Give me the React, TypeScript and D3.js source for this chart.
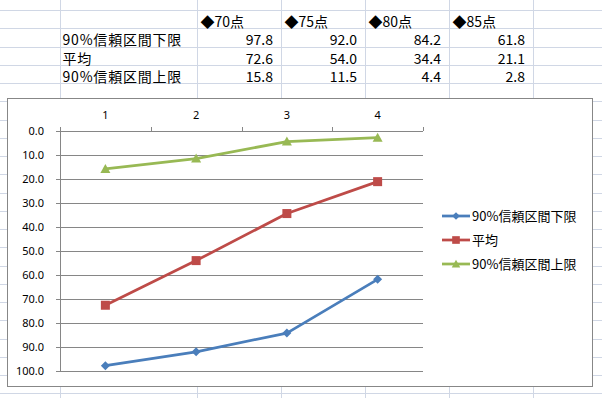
import React from "react";
import * as d3 from "d3";

const categories = ["1", "2", "3", "4"];
const headers = ["◆70点", "◆75点", "◆80点", "◆85点"];
const seriesNames = ["90%信頼区間下限", "平均", "90%信頼区間上限"];
const lower = [97.8, 92.0, 84.2, 61.8];
const mean = [72.6, 54.0, 34.4, 21.1];
const upper = [15.8, 11.5, 4.4, 2.8];
const yTicks = [0, 10, 20, 30, 40, 50, 60, 70, 80, 90, 100];

const colors = ["#4A7EBB", "#BE4B48", "#98B954"];
const shapes = ["diamond", "square", "triangle"];
const seriesValues = [lower, mean, upper];

const W = 602;
const H = 398;
const gridColor = "#D0D7E5";
const colLines = [60, 197, 281, 365, 449, 533];
const rowStart = 10;
const rowH = 18.25;

function marker(shape: string, cx: number, cy: number, color: string, s = 1) {
  if (shape === "diamond") {
    const r = 4.5 * s;
    return <path d={`M${cx},${cy - r}L${cx + r},${cy}L${cx},${cy + r}L${cx - r},${cy}Z`} fill={color} />;
  }
  if (shape === "square") {
    const r = 4.5 * s;
    return <rect x={cx - r} y={cy - r} width={2 * r} height={2 * r} fill={color} />;
  }
  const r = 5 * s;
  return <path d={`M${cx},${cy - r}L${cx + r},${cy + 4 * s}L${cx - r},${cy + 4 * s}Z`} fill={color} />;
}

export default function App() {
  const x = d3.scaleBand<string>().domain(categories).range([60, 423]);
  const y = d3.scaleLinear().domain([0, 100]).range([131, 371]);
  const cx = (c: string) => (x(c) as number) + x.bandwidth() / 2;
  const line = d3
    .line<number>()
    .x((_, i) => cx(categories[i]))
    .y((v) => y(v));

  const rows: number[] = [];
  for (let k = 0; rowStart + k * rowH < H; k++) rows.push(Math.round(rowStart + k * rowH) + 0.5);

  const tableFont = "'Noto Sans CJK JP', sans-serif";
  const tableRows = [lower, mean, upper];
  const boundaries = x.domain().map((c) => x(c) as number).concat([423]);

  return (
    <svg
      width={W}
      height={H}
      style={{ position: "fixed", left: 0, top: 0, background: "#fff" }}
      fontFamily={tableFont}
    >
      {/* spreadsheet grid */}
      {rows.map((r, i) => (
        <line key={"r" + i} x1={0} x2={W} y1={r} y2={r} stroke={gridColor} strokeWidth={1} />
      ))}
      {colLines.map((c, i) => (
        <line key={"c" + i} x1={c + 0.5} x2={c + 0.5} y1={0} y2={H} stroke={gridColor} strokeWidth={1} />
      ))}

      {/* table */}
      {headers.map((h, i) => (
        <text key={"h" + i} x={colLines[i + 1] + 3.5} y={26.5} fontSize={14} fill="#000">
          {h}
        </text>
      ))}
      {seriesNames.map((n, i) => (
        <text key={"n" + i} x={62.5} y={45 + i * 18.5} fontSize={14} letterSpacing={0.8} fill="#000">
          {n}
        </text>
      ))}
      {tableRows.map((vals, ri) =>
        vals.map((v, ci) => (
          <text
            key={"v" + ri + "-" + ci}
            x={colLines[ci + 2] - 8}
            y={45 + ri * 18.5}
            fontSize={14}
            textAnchor="end"
            fill="#000"
          >
            {d3.format(".1f")(v)}
          </text>
        ))
      )}

      {/* chart area */}
      <rect x={7.5} y={98.5} width={585} height={288} fill="#fff" stroke="#878787" strokeWidth={1} />

      {/* gridlines */}
      {yTicks.map((t) => (
        <line
          key={"g" + t}
          x1={t === 0 ? 60 : 56}
          x2={423}
          y1={Math.round(y(t)) + 0.5}
          y2={Math.round(y(t)) + 0.5}
          stroke="#868686"
          strokeWidth={1}
        />
      ))}
      {yTicks.map((t) => (
        <line
          key={"tk" + t}
          x1={56}
          x2={60}
          y1={Math.round(y(t)) + 0.5}
          y2={Math.round(y(t)) + 0.5}
          stroke="#868686"
          strokeWidth={1}
        />
      ))}
      {/* left axis */}
      <line x1={60.5} x2={60.5} y1={127} y2={372} stroke="#868686" strokeWidth={1} />
      {/* top axis ticks */}
      {boundaries.map((b, i) => (
        <line
          key={"xt" + i}
          x1={Math.round(b) + 0.5}
          x2={Math.round(b) + 0.5}
          y1={127}
          y2={131}
          stroke="#868686"
          strokeWidth={1}
        />
      ))}

      {/* y labels */}
      {yTicks.map((t) => (
        <text
          key={"yl" + t}
          x={44}
          y={y(t) + 4}
          fontSize={11}
          textAnchor="end"
          fontFamily="'Noto Sans', sans-serif"
          fill="#000"
        >
          {d3.format(".1f")(t)}
        </text>
      ))}
      {/* x labels */}
      {categories.map((c) => (
        <text
          key={"xl" + c}
          x={cx(c)}
          y={118.5}
          fontSize={11}
          textAnchor="middle"
          fontFamily="'Noto Sans', sans-serif"
          fill="#000"
        >
          {c}
        </text>
      ))}

      {/* series */}
      {seriesValues.map((vals, si) => (
        <g key={"s" + si}>
          <path d={line(vals) as string} fill="none" stroke={colors[si]} strokeWidth={2.75} strokeLinejoin="round" />
          {vals.map((v, i) => (
            <g key={i}>{marker(shapes[si], cx(categories[i]), y(v), colors[si])}</g>
          ))}
        </g>
      ))}

      {/* legend */}
      {seriesNames.map((n, i) => {
        const ly = 216 + i * 24;
        return (
          <g key={"lg" + i}>
            <line x1={442} x2={470} y1={ly} y2={ly} stroke={colors[i]} strokeWidth={2.75} />
            {marker(shapes[i], 456, ly, colors[i], 0.85)}
            <text x={472} y={ly + 4.5} fontSize={13} fill="#000">
              {n}
            </text>
          </g>
        );
      })}
    </svg>
  );
}
